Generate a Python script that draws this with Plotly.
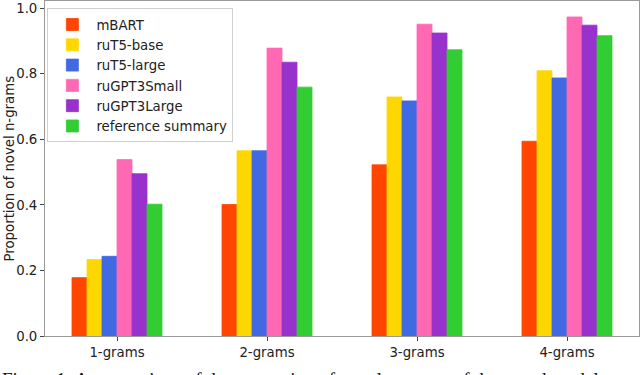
import plotly.graph_objects as go

categories = ["1-grams", "2-grams", "3-grams", "4-grams"]
series_names = ["mBART", "ruT5-base", "ruT5-large", "ruGPT3Small", "ruGPT3Large", "reference summary"]
colors = ["#FF4500", "#FFD700", "#4169E1", "#FF69B4", "#9932CC", "#32CD32"]

mbart = [0.178, 0.401, 0.522, 0.594]
rut5_base = [0.233, 0.565, 0.729, 0.809]
rut5_large = [0.243, 0.565, 0.717, 0.787]
rugpt3_small = [0.538, 0.878, 0.951, 0.973]
rugpt3_large = [0.495, 0.835, 0.924, 0.948]
reference = [0.402, 0.759, 0.873, 0.916]

y_ticks = [0.0, 0.2, 0.4, 0.6, 0.8, 1.0]
y_title = "Proportion of novel n-grams"
caption = "Figure 1: A comparison of the proportion of novel n-grams of the tested models"

series_values = [mbart, rut5_base, rut5_large, rugpt3_small, rugpt3_large, reference]

fig = go.Figure()
for name, vals, col in zip(series_names, series_values, colors):
    fig.add_trace(go.Bar(x=categories, y=vals, name=name,
                         marker=dict(color=col, line=dict(width=0.8, color=col))))

font_family = "DejaVu Sans"
fig.update_layout(
    width=640, height=375,
    margin=dict(l=45, r=1, t=1, b=39, autoexpand=False),
    paper_bgcolor="white", plot_bgcolor="white",
    barmode="group", bargap=0.4, bargroupgap=0,
    font=dict(family=font_family, size=13.3, color="#222"),
    showlegend=True,
    legend=dict(x=0.004, y=0.978, xanchor="left", yanchor="top",
                bgcolor="rgba(255,255,255,0.85)", bordercolor="#d0d0d0", borderwidth=1,
                font=dict(size=13.3, family=font_family), itemwidth=38, tracegroupgap=0),
)
fig.update_xaxes(range=[-0.48, 3.48], showline=True, mirror=True, linecolor="#999", linewidth=1,
                 ticks="outside", ticklen=4, tickcolor="#444", showgrid=False,
                 tickfont=dict(size=13.3), automargin=False)
fig.update_yaxes(range=[0, 1.0217], tickvals=y_ticks, ticktext=[f"{v:.1f}" for v in y_ticks],
                 showline=True, mirror=True, linecolor="#999", linewidth=1,
                 ticks="outside", ticklen=4, tickcolor="#444", showgrid=False, zeroline=False,
                 tickfont=dict(size=13.3), automargin=False)
fig.add_annotation(text=y_title, xref="paper", yref="paper", x=(9 - 45) / 594, y=0.5,
                   xanchor="center", yanchor="middle", textangle=-90, showarrow=False,
                   font=dict(family=font_family, size=13.3, color="#222"))
fig.add_annotation(text=caption, xref="paper", yref="paper", x=-45/594, y=-(367-336)/335,
                   xanchor="left", yanchor="top", showarrow=False,
                   font=dict(family="Liberation Serif", size=19, color="#111"))
fig.write_html("out.html", config={"displayModeBar": False},
               post_script="document.body.style.margin='0';document.body.style.overflow='hidden';")
